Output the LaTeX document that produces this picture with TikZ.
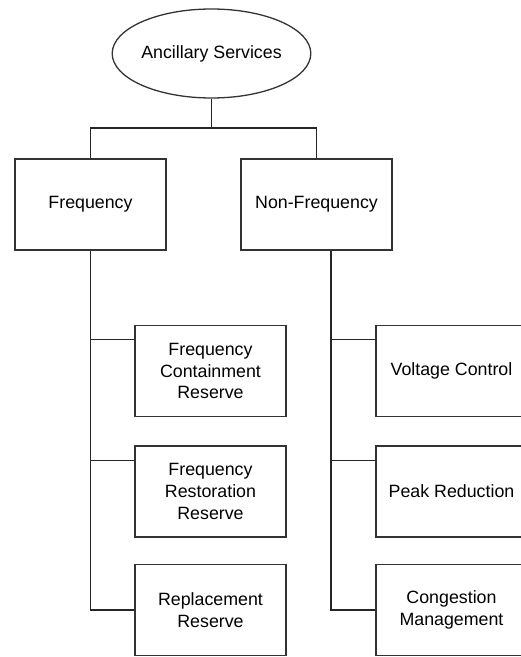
\documentclass[tikz,border=0pt]{standalone}
\usepackage{fontspec}
\setmainfont{Liberation Sans}
\usepackage{tikz}
\usetikzlibrary{shapes.geometric}

\begin{document}
\begin{tikzpicture}[x=1pt,y=1pt,font=\fontsize{17.8}{21.7}\selectfont,
    box/.style={draw=black!80,line width=1.3pt,minimum width=151pt,minimum height=91pt,
      inner sep=0pt,align=center},
    oval/.style={draw=black!80,line width=1.3pt,ellipse,minimum width=197pt,
      minimum height=89pt,inner sep=0pt},
    link/.style={draw=black!85,line width=1.3pt}]
  \useasboundingbox (0,0) rectangle (521,657);
  \clip (0,0) rectangle (521,657);
  \node[oval] (root) at (211.5,603.5) {Ancillary Services};
  \node[box] (freq) at (90.5,452.5) {Frequency};
  \node[box] (nonfreq) at (316.5,452.5) {Non-Frequency};
  % frequency services
  \node[box] (fcr) at (210.5,286) {Frequency\\Containment\\Reserve};
  \node[box] (frr) at (210.5,165.5) {Frequency\\Restoration\\Reserve};
  \node[box] (rr) at (210.5,47) {Replacement\\Reserve};
  % non-frequency services
  \node[box] (vc) at (451.5,286) {Voltage Control};
  \node[box] (pr) at (451.5,165.5) {Peak Reduction};
  \node[box] (cm) at (451.5,47) {Congestion\\Management};
  \coordinate (split) at (211.5,529);
  \coordinate (fdrop) at (freq.south);
  \coordinate (nfdrop) at ([xshift=14.5pt]nonfreq.south);
  \coordinate (fcrin) at ([yshift=-15pt]fcr.north west);
  \coordinate (frrin) at ([yshift=-15pt]frr.north west);
  \coordinate (vcin) at ([yshift=-15pt]vc.north west);
  \coordinate (prin) at ([yshift=-15pt]pr.north west);
  \draw[link] (root.south) -- (split);
  \draw[link] (split) -| (freq.north);
  \draw[link] (split) -| (nonfreq.north);
  \draw[link] (fdrop) |- (rr.west);
  \draw[link] (fdrop |- fcrin) -- (fcrin);
  \draw[link] (fdrop |- frrin) -- (frrin);
  \draw[link] (nfdrop) |- (cm.west);
  \draw[link] (nfdrop |- vcin) -- (vcin);
  \draw[link] (nfdrop |- prin) -- (prin);
\end{tikzpicture}
\end{document}
